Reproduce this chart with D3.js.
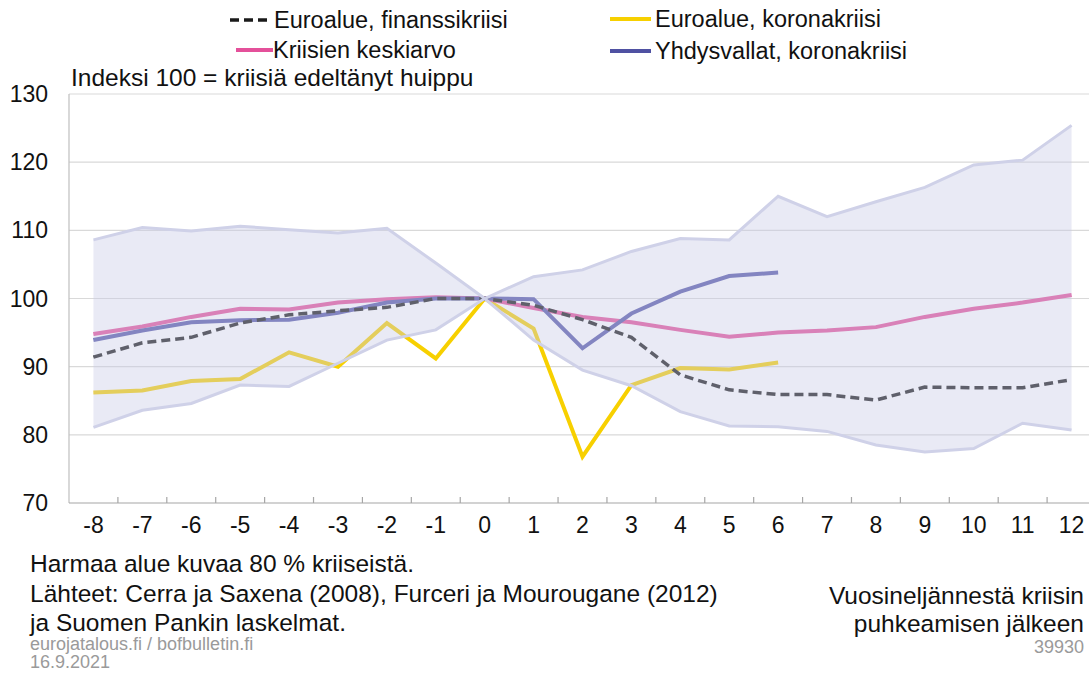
<!DOCTYPE html>
<html><head><meta charset="utf-8">
<script src="https://cdn.jsdelivr.net/npm/d3@7"></script>
<style>
html,body{margin:0;padding:0;background:#fff;}
svg{display:block;font-family:"Liberation Sans",Arial,sans-serif;}
</style></head>
<body>
<svg id="c" width="1089" height="675"></svg>
<script>
const quarters = [-8,-7,-6,-5,-4,-3,-2,-1,0,1,2,3,4,5,6,7,8,9,10,11,12];
const bandUpper = [108.6,110.4,109.9,110.6,110.1,109.6,110.3,105.2,100,103.2,104.2,106.9,108.8,108.6,115.0,112.0,114.2,116.3,119.6,120.3,125.4];
const bandLower = [81.1,83.6,84.6,87.3,87.1,90.5,93.9,95.4,100,93.9,89.5,87.2,83.4,81.3,81.2,80.5,78.5,77.5,78.0,81.7,80.7];
const meanCrisis = [94.8,95.9,97.3,98.5,98.4,99.4,99.9,100.2,100,98.6,97.3,96.5,95.4,94.4,95.0,95.3,95.8,97.3,98.5,99.4,100.5];
const euroFinancial = [91.4,93.5,94.3,96.4,97.6,98.2,98.7,100.0,100,99.0,96.9,94.3,88.8,86.6,85.9,85.9,85.1,87.0,86.9,86.9,88.1];
const euroCorona = [86.2,86.5,87.9,88.2,92.1,90.0,96.4,91.2,100,95.6,76.8,87.3,89.8,89.6,90.6];
const usCorona = [93.9,95.3,96.5,96.8,96.9,97.9,99.4,100.0,100,99.9,92.7,97.8,101.0,103.3,103.8];
const yTicks = [70,80,90,100,110,120,130];

const svg = d3.select("#c");
const x = d3.scaleBand().domain(quarters).range([69,1096]).padding(0);
const y = d3.scaleLinear().domain([70,130]).range([503,94]);
const cx = q => x(q) + x.bandwidth()/2;

// gridlines
svg.append("g").selectAll("line").data(yTicks.slice(1)).join("line")
  .attr("x1",69).attr("x2",1089).attr("y1",d=>y(d)).attr("y2",d=>y(d))
  .attr("stroke","#d9d9d9").attr("stroke-width",1.2);

// y axis labels
svg.append("g").selectAll("text").data(yTicks).join("text")
  .attr("x",48).attr("y",d=>y(d)+8).attr("text-anchor","end")
  .attr("font-size",23).attr("fill","#111").text(d=>d);

// axes lines
svg.append("line").attr("x1",69).attr("x2",69).attr("y1",94).attr("y2",503)
  .attr("stroke","#bfbfbf").attr("stroke-width",1.2);
svg.append("line").attr("x1",69).attr("x2",1089).attr("y1",503).attr("y2",503)
  .attr("stroke","#a6a6a6").attr("stroke-width",1.2);
svg.append("g").selectAll("line").data(quarters.slice(1)).join("line")
  .attr("x1",d=>x(d)).attr("x2",d=>x(d)).attr("y1",497).attr("y2",503)
  .attr("stroke","#a6a6a6").attr("stroke-width",1.2);
svg.append("g").selectAll("text").data(quarters).join("text")
  .attr("x",d=>cx(d)).attr("y",533).attr("text-anchor","middle")
  .attr("font-size",23).attr("fill","#111").text(d=>d);

// series lines
const line = d3.line().x((d,i)=>cx(quarters[i])).y(d=>y(d));
svg.append("path").attr("d",line(euroCorona)).attr("fill","none")
  .attr("stroke","#f7d000").attr("stroke-width",4);
svg.append("path").attr("d",line(meanCrisis)).attr("fill","none")
  .attr("stroke","#e4509a").attr("stroke-width",4);
svg.append("path").attr("d",line(usCorona)).attr("fill","none")
  .attr("stroke","#5557a8").attr("stroke-width",4);
svg.append("path").attr("d",line(euroFinancial)).attr("fill","none")
  .attr("stroke","#1a1a1a").attr("stroke-width",3.5).attr("stroke-dasharray","9,5");

// band overlay
const area = d3.area().x((d,i)=>cx(quarters[i])).y0((d,i)=>y(bandLower[i])).y1(d=>y(d));
svg.append("path").attr("d",area(bandUpper)).attr("fill","rgb(200,202,230)").attr("fill-opacity",0.4);
svg.append("path").attr("d",line(bandUpper)).attr("fill","none").attr("stroke","#cfd1e8").attr("stroke-width",3);
svg.append("path").attr("d",line(bandLower)).attr("fill","none").attr("stroke","#cfd1e8").attr("stroke-width",3);

// legend
const lg = svg.append("g").attr("font-size",23.5).attr("fill","#111");
lg.append("line").attr("x1",230).attr("x2",268).attr("y1",20).attr("y2",20)
  .attr("stroke","#1a1a1a").attr("stroke-width",3.5).attr("stroke-dasharray","9,5");
lg.append("text").attr("x",274).attr("y",28).text("Euroalue, finanssikriisi");
lg.append("line").attr("x1",236).attr("x2",273).attr("y1",50).attr("y2",50)
  .attr("stroke","#e4509a").attr("stroke-width",4);
lg.append("text").attr("x",273).attr("y",58).text("Kriisien keskiarvo");
lg.append("line").attr("x1",610).attr("x2",651).attr("y1",19).attr("y2",19)
  .attr("stroke","#f7d000").attr("stroke-width",4);
lg.append("text").attr("x",655).attr("y",27).text("Euroalue, koronakriisi");
lg.append("line").attr("x1",610).attr("x2",651).attr("y1",51).attr("y2",51)
  .attr("stroke","#4f51a2").attr("stroke-width",4);
lg.append("text").attr("x",655).attr("y",59).text("Yhdysvallat, koronakriisi");

svg.append("text").attr("x",71).attr("y",86).attr("font-size",24.5).attr("fill","#111")
  .text("Indeksi 100 = kriisiä edeltänyt huippu");

// notes
const nt = svg.append("g").attr("font-size",24.5).attr("fill","#111");
nt.append("text").attr("x",30).attr("y",572).text("Harmaa alue kuvaa 80 % kriiseistä.");
nt.append("text").attr("x",30).attr("y",602).text("Lähteet: Cerra ja Saxena (2008), Furceri ja Mourougane (2012)");
nt.append("text").attr("x",30).attr("y",631).text("ja Suomen Pankin laskelmat.");
nt.append("text").attr("x",1084).attr("y",604).attr("text-anchor","end").text("Vuosineljännestä kriisin");
nt.append("text").attr("x",1084).attr("y",632).attr("text-anchor","end").text("puhkeamisen jälkeen");

const ft = svg.append("g").attr("font-size",18).attr("fill","#9a9a9a");
ft.append("text").attr("x",30).attr("y",650).text("eurojatalous.fi / bofbulletin.fi");
ft.append("text").attr("x",30).attr("y",668).text("16.9.2021");
ft.append("text").attr("x",1084).attr("y",653).attr("text-anchor","end").text("39930");
</script>
</body></html>
